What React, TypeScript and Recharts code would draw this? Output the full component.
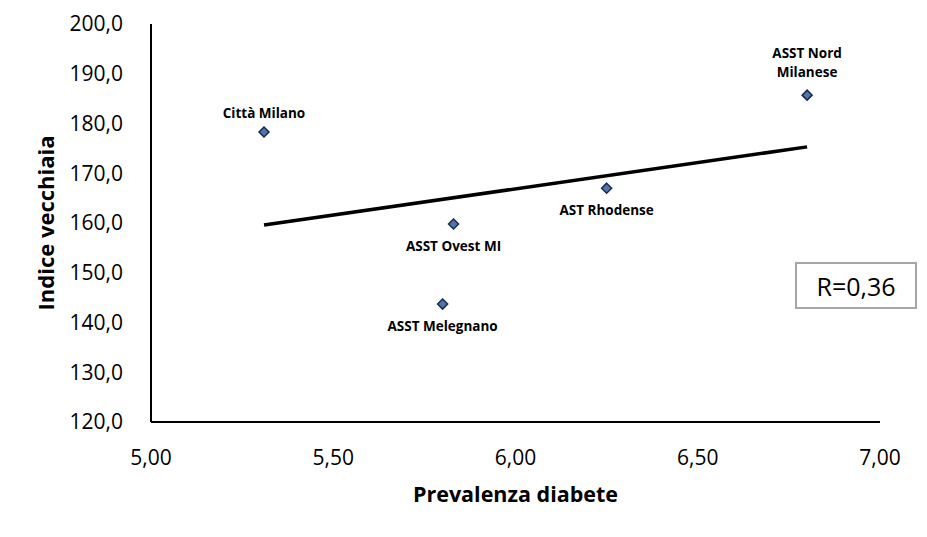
import { ScatterChart, Scatter, XAxis, YAxis, ReferenceLine } from "recharts";

// values
const names = ["Città Milano", "ASST Ovest MI", "ASST Melegnano", "AST Rhodense", "ASST Nord Milanese"];
const prevalenza = [5.31, 5.83, 5.8, 6.25, 6.8];
const indice = [178.3, 159.8, 143.7, 167.0, 185.7];

const xTicks = [5, 5.5, 6, 6.5, 7];
const yTicks = [120, 130, 140, 150, 160, 170, 180, 190, 200];

// trend line end points
const trendX = [5.31, 6.8];
const trendY = [159.6, 175.3];

const rValue = "R=0,36";

const points = names.map((name, i) => ({ name, x: prevalenza[i], y: indice[i] }));

const labelsAbove = ["Città Milano", "ASST Nord Milanese"];
const labelLines: Record<string, string[]> = {
  "ASST Nord Milanese": ["ASST Nord", "Milanese"],
};

const FONT = "'Open Sans', sans-serif";

function Diamond(props: any) {
  const { cx, cy, payload } = props;
  const r = 5;
  const lines = labelLines[payload.name] || [payload.name];
  const above = labelsAbove.includes(payload.name);
  return (
    <g>
      <path
        d={`M${cx},${cy - r} L${cx + r},${cy} L${cx},${cy + r} L${cx - r},${cy} Z`}
        fill="#4f74b3"
        stroke="#1c2b45"
        strokeWidth={1.5}
      />
      {lines.map((line, i) => (
        <text
          key={i}
          x={cx}
          y={above ? cy - 14 - (lines.length - 1 - i) * 19 - (lines.length > 1 ? 4 : 0) : cy + 27}
          textAnchor="middle"
          fontFamily={FONT}
          fontWeight="bold"
          fontSize={13.5}
          fill="#000"
        >
          {line}
        </text>
      ))}
    </g>
  );
}

const comma = (v: number, d: number) => v.toFixed(d).replace(".", ",");

export default function App() {
  return (
    <div style={{ position: "absolute", left: 0, top: 0, width: 927, height: 537, background: "#fff" }}>
      <ScatterChart width={927} height={537} margin={{ top: 24, right: 47, bottom: 0, left: 0 }}>
        <XAxis
          type="number"
          dataKey="x"
          domain={[5, 7]}
          ticks={xTicks}
          tickFormatter={(v) => comma(v, 2)}
          tickLine={false}
          axisLine={{ stroke: "#000", strokeWidth: 2 }}
          tick={{ fill: "#000", fontSize: 21, fontFamily: FONT }}
          tickMargin={22}
          height={115}
          label={{
            value: "Prevalenza diabete",
            position: "insideBottom",
            offset: 35,
            fill: "#000",
            fontSize: 21.5,
            fontWeight: "bold",
            fontFamily: FONT,
          }}
        />
        <YAxis
          type="number"
          dataKey="y"
          domain={[120, 200]}
          ticks={yTicks}
          tickFormatter={(v) => comma(v, 1)}
          tickLine={false}
          axisLine={{ stroke: "#000", strokeWidth: 2 }}
          tick={{ fill: "#000", fontSize: 21, fontFamily: FONT }}
          tickMargin={22}
          width={151}
          label={(p: any) => {
            const vb = p.viewBox;
            const cx = 45;
            const cy = vb.y + vb.height / 2;
            return (
              <text
                x={cx}
                y={cy}
                transform={`rotate(-90 ${cx} ${cy})`}
                textAnchor="middle"
                dominantBaseline="central"
                fontFamily={FONT}
                fontWeight="bold"
                fontSize={22}
                fill="#000"
              >
                Indice vecchiaia
              </text>
            );
          }}
        />
        <ReferenceLine
          segment={[
            { x: trendX[0], y: trendY[0] },
            { x: trendX[1], y: trendY[1] },
          ]}
          stroke="#000"
          strokeWidth={3.5}
        />
        <Scatter data={points} shape={Diamond} isAnimationActive={false} />
      </ScatterChart>
      <div
        style={{
          position: "absolute",
          left: 795,
          top: 262,
          width: 118,
          height: 43,
          border: "2px solid #a6a6a6",
          display: "flex",
          alignItems: "center",
          justifyContent: "center",
          fontFamily: FONT,
          fontSize: 25,
          color: "#000",
        }}
      >
        {rValue}
      </div>
    </div>
  );
}
